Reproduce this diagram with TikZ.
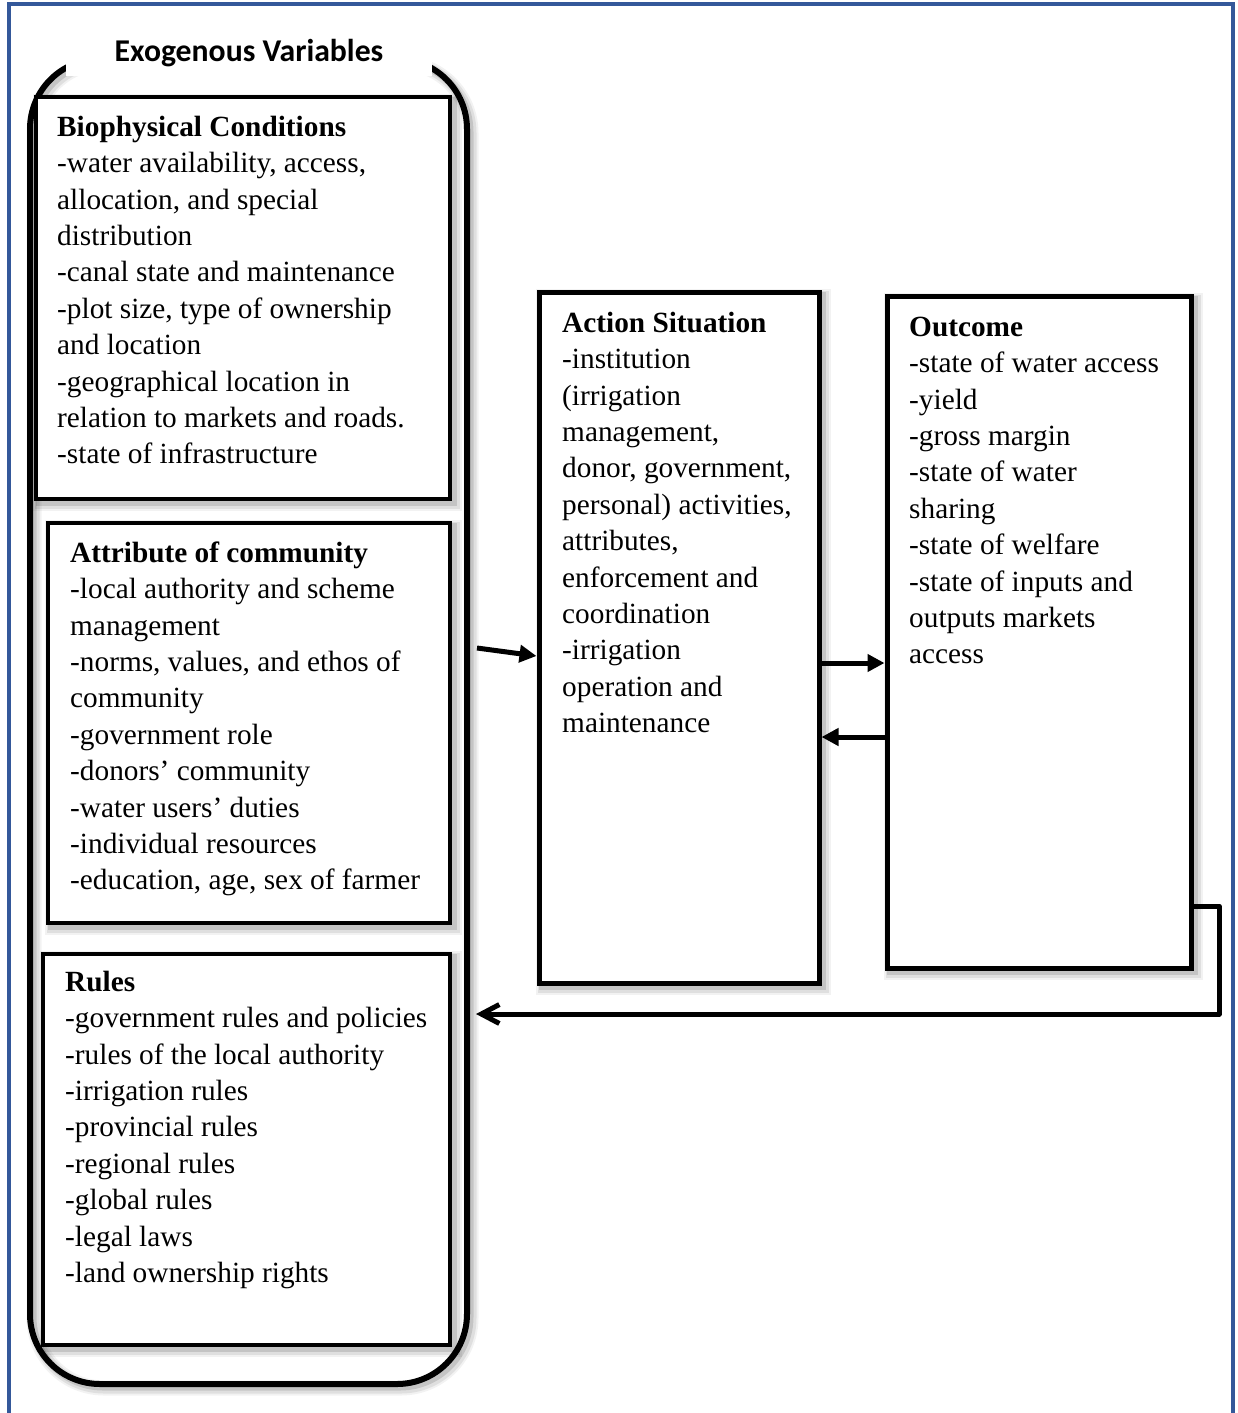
\documentclass[tikz,border=0pt]{standalone}
\usepackage{fontspec}
\setmainfont{Liberation Serif}
\newfontfamily\titlefont{Carlito}
\usetikzlibrary{arrows.meta,calc}
\definecolor{frameblue}{RGB}{52,88,154}
\newcommand\myfirststrut{\rule{0pt}{22pt}}
\tikzset{
  softshadow/.style={
    preaction={draw=black,opacity=0.05,line width=15pt,transform canvas={xshift=4pt,yshift=-4pt}},
    preaction={draw=black,opacity=0.08,line width=11pt,transform canvas={xshift=4pt,yshift=-4pt}},
    preaction={draw=black,opacity=0.12,line width=7pt,transform canvas={xshift=3pt,yshift=-3pt}}
  },
  exobox/.style={draw, line width=6pt, rounded corners=70pt, inner sep=0pt, softshadow},
  varbox/.style={draw, fill=white, line width=4pt, inner sep=0pt, softshadow},
  mainbox/.style={draw, fill=white, line width=5pt, inner sep=0pt, softshadow},
  txt/.style={anchor=north west, inner sep=0pt, align=left, font=\fontsize{29.3}{36.4}\selectfont},
  arr/.style={line width=5pt, -{Triangle[length=17pt,width=17pt]}},
  fbarr/.style={line width=5pt, line join=round, -{Straight Barb[length=18pt,width=19pt]}}
}
\begin{document}
\begin{tikzpicture}[x=1pt,y=-1pt]
\useasboundingbox (0,0) rectangle (1237,1413);
% page frame
\draw[frameblue, line width=4pt] (9,1420) -- (9,4) -- (1233,4) -- (1233,1420);

% exogenous container
\node[exobox, minimum width=437pt, minimum height=1325pt] (exo) at (248.5,721.5) {};
\node[fill=white, minimum width=366pt, minimum height=46pt, inner sep=0pt,
      font=\titlefont\bfseries\fontsize{31.7}{38}\selectfont] (title) at (249,53) {Exogenous Variables};

% variable boxes
\node[varbox, minimum width=414pt, minimum height=402pt] (bio) at (243,298) {};
\node[varbox, minimum width=402pt, minimum height=400pt] (attr) at (249,723) {};
\node[varbox, minimum width=407pt, minimum height=391pt] (rules) at (246.5,1149.5) {};

% main boxes
\node[mainbox, minimum width=280pt, minimum height=691pt] (action) at (679,637.5) {};
\node[mainbox, minimum width=304pt, minimum height=672pt] (outcome) at (1039,632) {};

% texts
\node[txt] (biotxt) at (57,114) {\myfirststrut\textbf{Biophysical Conditions}\\
-water availability, access,\\
allocation, and special\\
distribution\\
-canal state and maintenance\\
-plot size, type of ownership\\
and location\\
-geographical location in\\
relation to markets and roads.\\
-state of infrastructure};

\node[txt] (attrtxt) at (70,540) {\myfirststrut\textbf{Attribute of community}\\
-local authority and scheme\\
management\\
-norms, values, and ethos of\\
community\\
-government role\\
-donors’ community\\
-water users’ duties\\
-individual resources\\
-education, age, sex of farmer};

\node[txt] (rulestxt) at (65,969) {\myfirststrut\textbf{Rules}\\
-government rules and policies\\
-rules of the local authority\\
-irrigation rules\\
-provincial rules\\
-regional rules\\
-global rules\\
-legal laws\\
-land ownership rights};

\node[txt] (actiontxt) at (562,310) {\myfirststrut\textbf{Action Situation}\\
-institution\\
(irrigation\\
management,\\
donor, government,\\
personal) activities,\\
attributes,\\
enforcement and\\
coordination\\
-irrigation\\
operation and\\
maintenance};

\node[txt] (outcometxt) at (909,314) {\myfirststrut\textbf{Outcome}\\
-state of water access\\
-yield\\
-gross margin\\
-state of water\\
sharing\\
-state of welfare\\
-state of inputs and\\
outputs markets\\
access};

% connectors
\draw[arr] ($(exo.east |- 0,648)+(7,0)$) -- (action.west |- 0,656);
\draw[arr] (action.east |- 0,663) -- (outcome.west |- 0,663);
\draw[arr] (outcome.west |- 0,737) -- (action.east |- 0,737);
\coordinate (fb) at (1219,1014);
\draw[fbarr] (outcome.east |- 0,906) -| (fb) -- ($(exo.east |- fb)+(6,0)$);
\end{tikzpicture}
\end{document}
